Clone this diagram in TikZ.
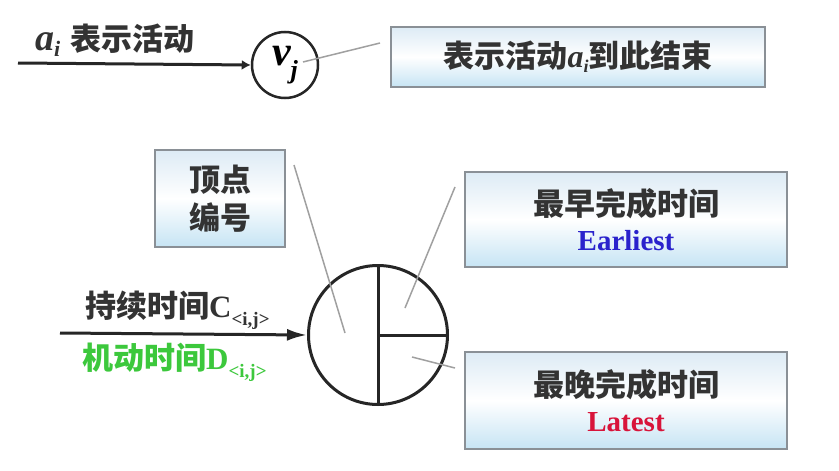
\documentclass[tikz,border=0pt]{standalone}
\usepackage{fontspec}
\setmainfont{Liberation Serif}
\newfontfamily\cjk{Noto Sans CJK SC}
\usetikzlibrary{arrows.meta}
\definecolor{txt}{HTML}{333333}
\definecolor{boxline}{HTML}{8A9096}
\definecolor{boxtop}{HTML}{DDEBF5}
\definecolor{boxbot}{HTML}{C6E4F4}
\definecolor{grn}{HTML}{3CC83C}
\definecolor{blu}{HTML}{2A22CC}
\definecolor{rd}{HTML}{D8143A}
\definecolor{leadc}{HTML}{A0A0A0}
\newcommand\cj[1]{{\cjk\bfseries #1}}
\newcommand\fs[1]{\fontsize{#1}{#1}\selectfont}
\newcommand\sub[1]{\raisebox{-8pt}{\fs{19}\bfseries #1}}
\begin{document}
\begin{tikzpicture}[x=1pt,y=-1pt,
  infobox/.style={draw=boxline,line width=1.5pt,top color=boxtop,bottom color=boxbot,middle color=white,
    inner sep=0pt,text=txt,align=center,font=\fontsize{31}{38}\selectfont},
  lbl/.style={inner sep=0pt,text=txt,font=\fs{31}},
  leadline/.style={draw=leadc,line width=1.5pt},
  arr/.style={line width=3pt,draw=black!85},
  ring/.style={circle,draw=black!85,inner sep=0pt}]
\useasboundingbox (0,0) rectangle (839,471);
\fill[white] (0,0) rectangle (839,471);
% top part
\node[ring,line width=2.5pt,minimum size=66pt] (vj) at (285,65) {\fs{42}\bfseries\itshape v\raisebox{-13pt}{\fs{26}j}};
\coordinate (a0) at (18,63);
\draw[arr,-{Latex[length=9pt,width=10pt]}] (a0) -- (vj.west);
\node[lbl,anchor=base west] (la) at (35,50) {{\fs{38}\bfseries\itshape a}\raisebox{-6pt}{\fs{22}\bfseries\itshape i}\hspace{10pt}\cj{表示活动}};
\node[infobox,minimum width=374pt,minimum height=60pt] (b1) at (578,57) {\cj{表示活动}{\fs{32}\bfseries\itshape a}\raisebox{-5pt}{\fs{18}\bfseries\itshape i}\cj{到此结束}};
\coordinate (v1) at (303,62);
\coordinate (v2) at (380,43);
\draw[leadline] (v1) -- (v2);
% boxes
\node[infobox,minimum width=130pt,minimum height=97pt] (b2) at (220,198.5) {\cj{顶点}\\\cj{编号}};
\node[infobox,minimum width=322pt,minimum height=95pt] (b3) at (626,219.5) {\cj{最早完成时间}\\[-3pt]{\fs{29}\bfseries\color{blu}Earliest}};
\node[infobox,minimum width=322pt,minimum height=97pt] (b4) at (626,400.5) {\cj{最晚完成时间}\\[-3pt]{\fs{29}\bfseries\color{rd}Latest}};
% big circle
\node[ring,line width=3pt,minimum size=139pt] (vc) at (378,335) {};
\draw[line width=3pt,draw=black!85] (vc.north) -- (vc.south);
\draw[line width=3pt,draw=black!85] (vc.center) -- (vc.east);
% lead lines
\coordinate (p1) at (294,165); \coordinate (q1) at (345,333);
\coordinate (p2) at (455,187); \coordinate (q2) at (405,308);
\coordinate (p3) at (412,357); \coordinate (q3) at (455,368);
\draw[leadline] (p1) -- (q1);
\draw[leadline] (p2) -- (q2);
\draw[leadline] (p3) -- (q3);
% lower arrow
\coordinate (c0) at (60,333);
\draw[arr,-{Latex[length=20pt,width=12pt]}] (c0) -- (vc.west);
\node[lbl,anchor=base west] (lc) at (85,317) {\cj{持续时间}{\fs{31}\bfseries C}\sub{<i,j>}};
\node[lbl,anchor=base west,text=grn] (ld) at (82,369) {\cj{机动时间}{\fs{31}\bfseries D}\sub{<i,j>}};
\end{tikzpicture}
\end{document}
